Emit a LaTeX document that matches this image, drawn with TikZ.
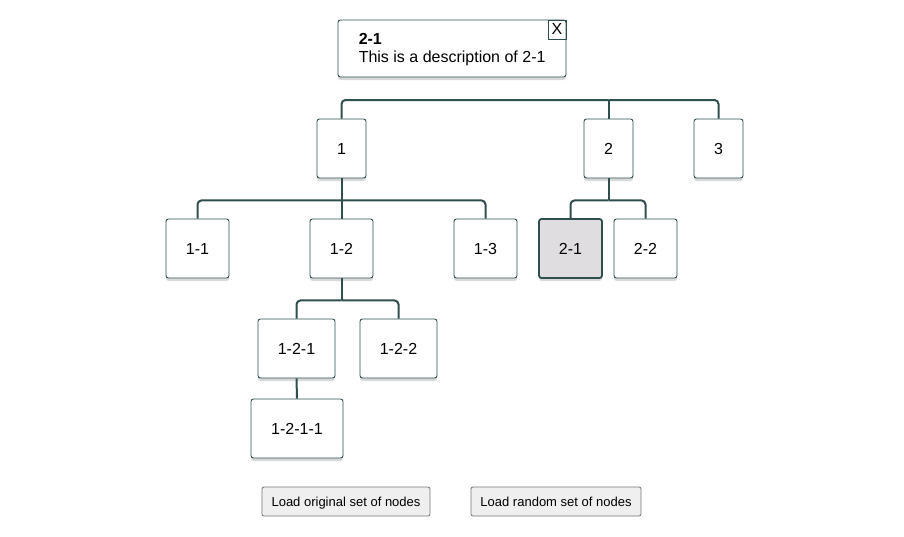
\documentclass[tikz,border=0pt]{standalone}
\usepackage{fontspec}
\setmainfont{Liberation Sans}
\usepackage{xcolor}
\usepackage{tikz}
\usetikzlibrary{shadows}

\definecolor{linkcol}{HTML}{2F4F4F}
\definecolor{selfill}{HTML}{E0DDE1}
\definecolor{btnfill}{HTML}{EFEFEF}
\definecolor{btnline}{HTML}{767676}

\begin{document}
\begin{tikzpicture}[x=1pt, y=-1pt,
    treenode/.style={draw=linkcol, line width=0.9pt, fill=white, rounded corners=2.5pt,
        minimum height=59pt, inner sep=0pt, font=\fontsize{16}{18}\selectfont,
        drop shadow={opacity=0.3, shadow xshift=0pt, shadow yshift=-3pt}},
    selnode/.style={treenode, fill=selfill, line width=1.8pt},
    link/.style={draw=linkcol, line width=2pt, rounded corners=4pt},
    button/.style={draw=btnline, fill=btnfill, rounded corners=2pt, line width=0.8pt,
        minimum height=29pt, inner sep=0pt, text depth=0pt, font=\fontsize{13}{15}\selectfont}]
    % Bounding box
    \useasboundingbox (0,0) rectangle (904,536);

    % Tooltip
    \node[draw=linkcol, line width=0.9pt, fill=white, rounded corners=2.5pt,
        minimum width=228pt, minimum height=57pt,
        drop shadow={opacity=0.3, shadow xshift=0pt, shadow yshift=-3pt}] (tip) at (452,48.5) {};
    \node[anchor=north west, align=left, inner sep=0pt, font=\fontsize{16}{18}\selectfont]
        (tiptext) at ([xshift=21pt, yshift=-14pt]tip.north west)
        {\textbf{2-1}\\This is a description of 2-1};
    \node[draw=linkcol, line width=0.8pt, anchor=north east, minimum width=18pt, minimum height=19pt,
        inner sep=0pt, font=\fontsize{16}{18}\selectfont] (close) at (tip.north east) {X};

    % Level 1
    \coordinate (root) at (608.5,100);
    \node[treenode, minimum width=49pt] (n1) at (341.5,148.5) {1};
    \node[treenode, minimum width=49pt] (n2) at (608.5,148.5) {2};
    \node[treenode, minimum width=49pt] (n3) at (718.5,148.5) {3};

    % Level 2
    \node[treenode, minimum width=63pt] (n11) at (197.5,248.5) {1-1};
    \node[treenode, minimum width=63pt] (n12) at (341.5,248.5) {1-2};
    \node[treenode, minimum width=63pt] (n13) at (485.5,248.5) {1-3};
    \node[selnode, minimum width=63pt] (n21) at (570.5,248.5) {2-1};
    \node[treenode, minimum width=63pt] (n22) at (645.5,248.5) {2-2};

    % Level 3
    \node[treenode, minimum width=77pt] (n121) at (296.5,348.5) {1-2-1};
    \node[treenode, minimum width=77pt] (n122) at (398.5,348.5) {1-2-2};

    % Level 4
    \node[treenode, minimum width=92pt] (n1211) at (297,428.5) {1-2-1-1};

    % Links
    \draw[link] (root) -| (n1.north);
    \draw[link] (root) -| (n3.north);
    \draw[link] (root) -- (n2.north);

    \draw[link] (n1.south) -- ++(0,22) coordinate (j1);
    \draw[link] (j1) -| (n11.north);
    \draw[link] (j1) -| (n13.north);
    \draw[link] (j1) -- (n12.north);

    \draw[link] (n2.south) -- ++(0,22) coordinate (j2);
    \draw[link] (j2) -| (n21.north);
    \draw[link] (j2) -| (n22.north);

    \draw[link] (n12.south) -- ++(0,22) coordinate (j12);
    \draw[link] (j12) -| (n121.north);
    \draw[link] (j12) -| (n122.north);

    \draw[link] (n121.south) -- (n1211.north);

    % Buttons
    \node[button, minimum width=168pt] (loadorig) at (346,501.5) {Load original set of nodes};
    \node[button, minimum width=170pt] (loadrand) at (556,501.5) {Load random set of nodes};
\end{tikzpicture}
\end{document}
